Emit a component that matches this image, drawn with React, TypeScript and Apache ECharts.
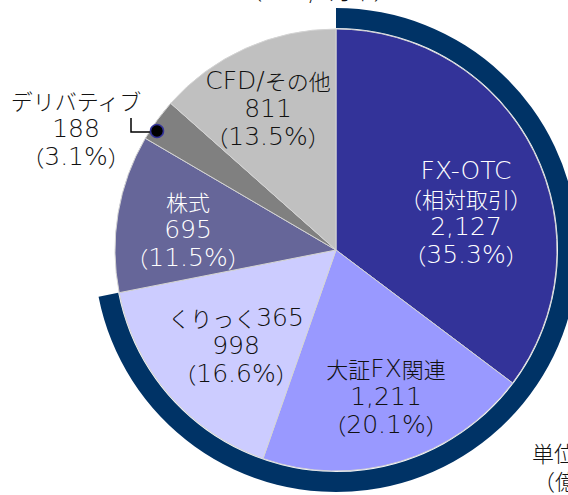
import React, { useEffect, useRef } from "react";
import * as echarts from "echarts";

const categories = ["FX-OTC\n（相対取引）", "大証FX関連", "くりっく365", "株式", "デリバティブ", "CFD/その他"];
const values = [2127, 1211, 998, 695, 188, 811];
const percents = [35.3, 20.1, 16.6, 11.5, 3.1, 13.5];
const fxGroupCount = 3; // first three categories are FX-related (outer ring)

const sliceColors = ["#333399", "#9999FF", "#CCCCFF", "#666699", "#808080", "#C0C0C0"];
const labelColors = ["#ffffff", "#111111", "#111111", "#ffffff", "#111111", "#111111"];
const labelPos = [
  [466, 212],
  [386, 396],
  [236, 345],
  [188, 229],
  [76, 128],
  [268, 108],
];

const LATIN = "'DejaVu Sans', sans-serif";
const CJK = "'Noto Sans CJK JP', sans-serif";
const CJK_RE = /[\u3000-\u9fff\uff00-\uffef]+|[^\u3000-\u9fff\uff00-\uffef]+/g;

function toRich(line: string): string {
  const parts = line.match(CJK_RE) || [];
  return parts
    .map((p) => (/[\u3000-\u9fff\uff00-\uffef]/.test(p) ? `{c|${p}}` : `{l|${p}}`))
    .join("");
}

export default function App() {
  const ref = useRef<HTMLDivElement>(null);
  useEffect(() => {
    if (!ref.current) return;
    const chart = echarts.init(ref.current, undefined, { renderer: "svg" });
    const total = values.reduce((a, b) => a + b, 0);
    const fxSum = values.slice(0, fxGroupCount).reduce((a, b) => a + b, 0);
    const fmt = (n: number) => n.toLocaleString("en-US");
    chart.setOption({
      animation: false,
      backgroundColor: "#ffffff",
      series: [
        {
          type: "pie",
          center: [336, 250],
          radius: [0, 221],
          startAngle: 90,
          clockwise: true,
          avoidLabelOverlap: false,
          silent: true,
          itemStyle: { borderColor: "#D4D4D4", borderWidth: 1 },
          data: categories.map((c, i) => ({
            name: c,
            value: values[i],
            itemStyle: { color: sliceColors[i] },
            label: { color: labelColors[i] },
          })),
          label: {
            show: true,
            position: "inside",
            fontSize: 22,
            lineHeight: 28,
            align: "center",
            rich: {
              l: { fontFamily: LATIN, fontSize: 25, fontWeight: 200, lineHeight: 28 },
              c: { fontFamily: CJK, fontSize: 22, fontWeight: 300, lineHeight: 28 },
            },
            formatter: (p: any) => {
              const lines = [
                ...String(p.name).split("\n"),
                fmt(values[p.dataIndex]),
                `（${percents[p.dataIndex].toFixed(1)}%）`,
              ];
              return lines.map(toRich).join("\n");
            },
          },
          labelLine: { show: false },
          labelLayout: (p: any) => ({
            x: labelPos[p.dataIndex][0],
            y: labelPos[p.dataIndex][1],
            align: "center",
            verticalAlign: "middle",
          }),
        },
        {
          type: "pie",
          center: [336, 250],
          radius: [222, 242],
          startAngle: 90,
          clockwise: true,
          silent: true,
          label: { show: false },
          labelLine: { show: false },
          data: [
            { value: fxSum, itemStyle: { color: "#003366" } },
            { value: total - fxSum, itemStyle: { color: "rgba(0,0,0,0)" } },
          ],
        },
      ],
      graphic: [
        {
          type: "polyline",
          shape: { points: [[131, 118], [131, 132], [157, 132]] },
          style: { stroke: "#000000", lineWidth: 1.5, fill: "none" },
          z: 100,
        },
        {
          type: "circle",
          shape: { cx: 157, cy: 131, r: 6.5 },
          style: { fill: "#000000", stroke: "#333399", lineWidth: 1.5 },
          z: 101,
        },
        {
          type: "text",
          x: 318,
          y: 0,
          style: {
            text: "（2015/3月末）",
            fontFamily: CJK,
            fontWeight: 300,
            fontSize: 22,
            fill: "#111111",
            align: "center",
            verticalAlign: "bottom",
          },
          z: 100,
        },
        {
          type: "text",
          x: 532,
          y: 441,
          style: {
            text: "単位：億円",
            fontFamily: CJK,
            fontWeight: 300,
            fontSize: 22,
            fill: "#111111",
            align: "left",
            verticalAlign: "top",
          },
          z: 100,
        },
        {
          type: "text",
          x: 533,
          y: 469,
          style: {
            text: "（億円）",
            fontFamily: CJK,
            fontWeight: 300,
            fontSize: 22,
            fill: "#111111",
            align: "left",
            verticalAlign: "top",
          },
          z: 100,
        },
      ],
    });
    return () => chart.dispose();
  }, []);
  return (
    <div
      ref={ref}
      style={{ position: "absolute", left: 0, top: 0, width: 568, height: 495 }}
    />
  );
}
